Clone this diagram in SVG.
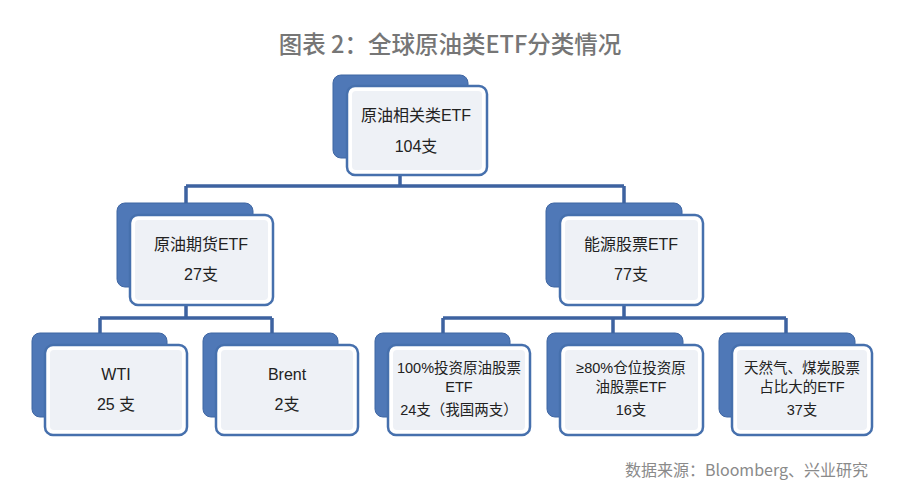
<svg xmlns="http://www.w3.org/2000/svg" width="900" height="492" viewBox="0 0 900 492">
<style>
.back{fill:#4f78b7;stroke:#3f66a3;stroke-width:1}
.front{fill:#ffffff;stroke:#4670ad;stroke-width:2.5}
.inner{fill:#eef1f6}
.t{font-family:"Liberation Sans","Noto Sans CJK SC",sans-serif;font-size:16px;fill:#222;text-anchor:middle}
.s{font-size:14.5px}
.c{fill:none;stroke:#3d62a0;stroke-width:3.5}
</style>
<rect width="900" height="492" fill="#ffffff"/>
<text x="450" y="53" font-family="'Noto Sans CJK SC',sans-serif" font-size="23.5" font-weight="500" fill="#767676" text-anchor="middle">图表 2：全球原油类ETF分类情况</text>
<g id="connectors">
<path class="c" d="M400 175V186M186 186H624M186 186V204M624 186V204"/>
<path class="c" d="M186 305V318M100 318H272M100 318V334M272 318V334"/>
<path class="c" d="M624 305V318M443 318H786M443 318V334M613 318V334M786 318V334"/>
</g>
<g id="n-root">
<rect class="back" x="333" y="75" width="135" height="83" rx="8"/>
<rect class="front" x="347" y="86" width="140" height="89" rx="8"/>
<rect class="inner" x="352" y="91" width="130" height="79" rx="4"/>
<text class="t" x="416" y="121">原油相关类ETF</text>
<text class="t" x="416" y="152">104支</text>
</g>
<g id="n-futures">
<rect class="back" x="117" y="203" width="136" height="84" rx="8"/>
<rect class="front" x="130" y="215" width="143" height="90" rx="8"/>
<rect class="inner" x="135" y="220" width="133" height="80" rx="4"/>
<text class="t" x="201" y="250">原油期货ETF</text>
<text class="t" x="201" y="280">27支</text>
</g>
<g id="n-equity">
<rect class="back" x="546" y="203" width="136" height="84" rx="8"/>
<rect class="front" x="560" y="215" width="143" height="90" rx="8"/>
<rect class="inner" x="565" y="220" width="133" height="80" rx="4"/>
<text class="t" x="631" y="250">能源股票ETF</text>
<text class="t" x="631" y="280">77支</text>
</g>
<g id="n-wti">
<rect class="back" x="32" y="333" width="135" height="84" rx="8"/>
<rect class="front" x="45" y="345" width="142" height="90" rx="8"/>
<rect class="inner" x="50" y="350" width="132" height="80" rx="4"/>
<text class="t" x="116" y="380">WTI</text>
<text class="t" x="116" y="410">25 支</text>
</g>
<g id="n-brent">
<rect class="back" x="203" y="333" width="135" height="84" rx="8"/>
<rect class="front" x="216" y="345" width="142" height="90" rx="8"/>
<rect class="inner" x="221" y="350" width="132" height="80" rx="4"/>
<text class="t" x="287" y="380">Brent</text>
<text class="t" x="287" y="410">2支</text>
</g>
<g id="n-100">
<rect class="back" x="375" y="333" width="135" height="84" rx="8"/>
<rect class="front" x="388" y="345" width="142" height="90" rx="8"/>
<rect class="inner" x="393" y="350" width="132" height="80" rx="4"/>
<text class="t s" x="459" y="373">100%投资原油股票</text>
<text class="t s" x="459" y="392">ETF</text>
<text class="t s" x="459" y="415">24支（我国两支）</text>
</g>
<g id="n-80">
<rect class="back" x="547" y="333" width="136" height="84" rx="8"/>
<rect class="front" x="560" y="345" width="143" height="90" rx="8"/>
<rect class="inner" x="565" y="350" width="133" height="80" rx="4"/>
<text class="t s" x="631" y="373">≥80%仓位投资原</text>
<text class="t s" x="631" y="392">油股票ETF</text>
<text class="t s" x="631" y="415">16支</text>
</g>
<g id="n-gas">
<rect class="back" x="719" y="333" width="136" height="84" rx="8"/>
<rect class="front" x="732" y="345" width="140" height="90" rx="8"/>
<rect class="inner" x="737" y="350" width="130" height="80" rx="4"/>
<text class="t s" x="802" y="373">天然气、煤炭股票</text>
<text class="t s" x="802" y="392">占比大的ETF</text>
<text class="t s" x="802" y="415">37支</text>
</g>
<text x="868" y="476" font-family="'Noto Sans CJK SC',sans-serif" font-size="16" fill="#8a8a8a" text-anchor="end">数据来源：Bloomberg、兴业研究</text>
</svg>
